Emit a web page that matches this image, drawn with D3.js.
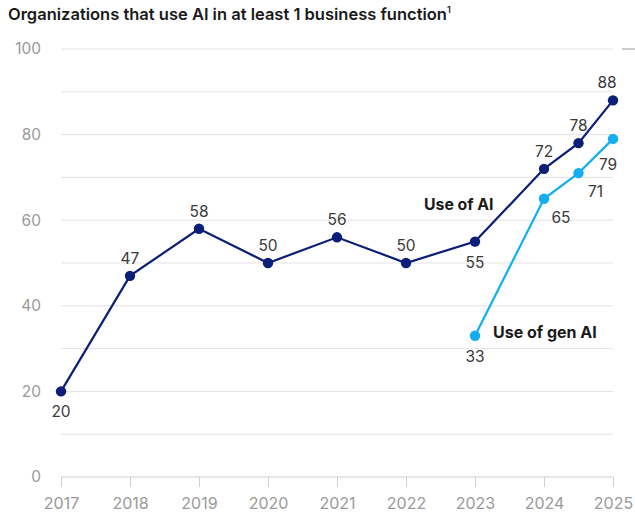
<!DOCTYPE html>
<html>
<head>
<meta charset="utf-8">
<script src="https://cdn.jsdelivr.net/npm/d3@7"></script>
<style>
  html, body { margin: 0; padding: 0; background: #fff; }
  svg { display: block; font-family: Inter, "Noto Sans", sans-serif; }
</style>
</head>
<body>
<svg id="chart" width="635" height="515"></svg>
<script>
// Share of organizations using AI, by survey year (half-year step for the mid-2024 survey)
const years = [2017, 2018, 2019, 2020, 2021, 2022, 2023, 2024, 2024.5, 2025];
const useOfAI = [20, 47, 58, 50, 56, 50, 55, 72, 78, 88];
const genAIYears = [2023, 2024, 2024.5, 2025];
const useOfGenAI = [33, 65, 71, 79];
const xTickLabels = [2017, 2018, 2019, 2020, 2021, 2022, 2023, 2024, 2025];
const yTickLabels = [0, 20, 40, 60, 80, 100];
const gridValues = [10, 20, 30, 40, 50, 60, 70, 80, 90, 100];

// where each value label sits relative to its point
const aiLabelPos = ["below", "above", "above", "above", "above", "above", "below", "above", "above", "aboveLeft"];
const genLabelPos = ["below", "belowRight", "belowRight", "belowLeft"];

const navy = "#0b1e78";
const sky = "#12aef0";

const svg = d3.select("#chart");

const x = d3.scaleLinear().domain([2017, 2025]).range([61, 613]);
const y = d3.scaleLinear().domain([0, 100]).range([477, 49]);

// title
const title = svg.append("text")
  .attr("x", 8).attr("y", 20)
  .attr("font-size", 16.5).attr("font-weight", 600).attr("fill", "#1a1a1a")
  .text("Organizations that use AI in at least 1 business function");
title.append("tspan").attr("font-size", 9).attr("dy", -7).text("1");

// horizontal gridlines
svg.append("g").selectAll("line").data(gridValues).join("line")
  .attr("x1", x(2017)).attr("x2", x(2025))
  .attr("y1", d => y(d)).attr("y2", d => y(d))
  .attr("stroke", "#e3e3e3").attr("stroke-width", 1);

// y axis labels
const yAxis = d3.axisLeft(y).tickValues(yTickLabels).tickSize(0).tickPadding(20);
svg.append("g").attr("transform", `translate(${x(2017)},0)`).call(yAxis)
  .call(g => g.select(".domain").remove())
  .call(g => g.selectAll("text").attr("font-size", 15.5).attr("fill", "#9a9a9a")
    .attr("font-family", "Inter, 'Noto Sans', sans-serif"));

// x axis
const xAxis = d3.axisBottom(x).tickValues(xTickLabels).tickFormat(d3.format("d"))
  .tickSize(10).tickPadding(11);
svg.append("g").attr("transform", `translate(0,${y(0)})`).call(xAxis)
  .call(g => g.select(".domain").attr("stroke", "#cfcfcf").attr("d", `M${x(2017)},0H${x(2025)}`))
  .call(g => g.selectAll(".tick line").attr("stroke", "#cfcfcf"))
  .call(g => g.selectAll("text").attr("font-size", 16).attr("fill", "#9a9a9a")
    .attr("font-family", "Inter, 'Noto Sans', sans-serif"));

// short leader dash to the right of the latest value
svg.append("line")
  .attr("x1", x(2025) + 9).attr("x2", 635)
  .attr("y1", y(100)).attr("y2", y(100))
  .attr("stroke", "#bdbdbd").attr("stroke-width", 1.5);

const line = d3.line().x(d => x(d[0])).y(d => y(d[1]));

// label offsets (dx, baseline dy) per placement
const placement = {
  above: [0, -12],
  aboveLeft: [-6, -12],
  below: [0, 26],
  belowRight: [17, 24],
  belowLeft: [-5, 31]
};

function drawSeries(xs, vals, color, pos) {
  const pts = xs.map((v, i) => [v, vals[i]]);
  svg.append("path").datum(pts)
    .attr("d", line).attr("fill", "none")
    .attr("stroke", color).attr("stroke-width", 2.2);
  svg.append("g").selectAll("circle").data(pts).join("circle")
    .attr("cx", d => x(d[0])).attr("cy", d => y(d[1])).attr("r", 5.2)
    .attr("fill", color);
  svg.append("g").selectAll("text").data(pts).join("text")
    .attr("x", (d, i) => x(d[0]) + placement[pos[i]][0])
    .attr("y", (d, i) => y(d[1]) + placement[pos[i]][1])
    .attr("text-anchor", "middle")
    .attr("font-size", 15.5).attr("fill", "#3a3a3a")
    .text(d => d[1]);
}

drawSeries(years, useOfAI, navy, aiLabelPos);
drawSeries(genAIYears, useOfGenAI, sky, genLabelPos);

// series labels
svg.append("text").attr("x", 424).attr("y", 210)
  .attr("font-size", 15.8).attr("font-weight", 700).attr("fill", "#1a1a1a")
  .text("Use of AI");
svg.append("text").attr("x", 493).attr("y", 338)
  .attr("font-size", 16).attr("font-weight", 700).attr("fill", "#1a1a1a")
  .text("Use of gen AI");
</script>
</body>
</html>
